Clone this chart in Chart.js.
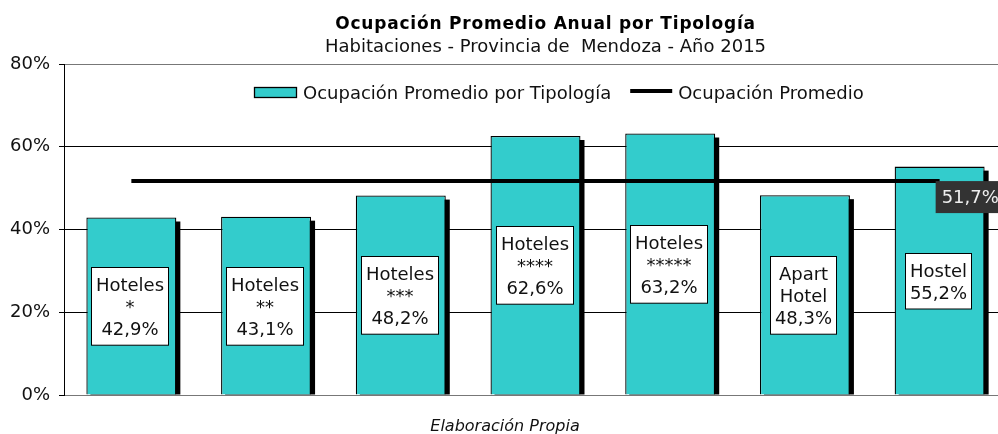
<!DOCTYPE html>
<html>
<head>
<meta charset="utf-8">
<script src="https://cdn.jsdelivr.net/npm/chart.js@4/dist/chart.umd.min.js"></script>
<style>
  html, body { margin: 0; padding: 0; background: #fff; overflow: hidden; }
  #wrap { width: 998px; height: 434px; overflow: hidden; }
</style>
</head>
<body>
<div id="wrap"><canvas id="grafico" width="1010" height="434"></canvas></div>
<script>
// datos
const categorias = [
  ["Hoteles", "*"],
  ["Hoteles", "**"],
  ["Hoteles", "***"],
  ["Hoteles", "****"],
  ["Hoteles", "*****"],
  ["Apart", "Hotel"],
  ["Hostel"]
];
const ocupacionTipologia = [42.9, 43.1, 48.2, 62.6, 63.2, 48.3, 55.2];
const ocupacionPromedio = [51.7, 51.7, 51.7, 51.7, 51.7, 51.7, 51.7];
const ticksY = [0, 20, 40, 60, 80];

const titulo = "Ocupación Promedio Anual por Tipología";
const subtitulo = "Habitaciones - Provincia de  Mendoza - Año 2015";
const pie = "Elaboración Propia";

const TEAL = "#33CCCC";
const FONT = "'DejaVu Sans', Verdana, sans-serif";
Chart.defaults.font.family = FONT;

const fmt = v => v.toFixed(1).replace(".", ",") + "%";

// sombra negra detras de cada barra
const sombras = {
  id: "sombras",
  beforeDatasetsDraw(chart) {
    const ctx = chart.ctx;
    const meta = chart.getDatasetMeta(0);
    ctx.save();
    ctx.fillStyle = "#000";
    meta.data.forEach(b => {
      ctx.fillRect(b.x - b.width / 2 + 4, b.y + 4, b.width, b.base - b.y - 4);
    });
    ctx.restore();
  }
};

// etiquetas, promedio, leyenda y textos
const extras = {
  id: "extras",
  afterDatasetsDraw(chart) {
    const ctx = chart.ctx;
    ctx.save();
    ctx.font = "18px " + FONT;

    // cajas blancas en las barras
    chart.getDatasetMeta(0).data.forEach((b, i) => {
      const lineas = [...categorias[i], fmt(ocupacionTipologia[i])];
      const w = Math.round(Math.max(...lineas.map(t => ctx.measureText(t).width)) + 9);
      const h = 33.3 + (lineas.length - 1) * 22.2;
      const cx = b.x - 1.5;
      const cy = (b.y + b.base) / 2;
      const top = Math.round(cy - h / 2) + 0.5;
      const left = Math.round(cx - w / 2) + 0.5;
      ctx.fillStyle = "#fff";
      ctx.fillRect(left, top, w, h);
      ctx.strokeStyle = "#000";
      ctx.lineWidth = 1;
      ctx.strokeRect(left, top, w, h);
      ctx.fillStyle = "#111";
      ctx.textAlign = "center";
      ctx.textBaseline = "alphabetic";
      lineas.forEach((t, k) => ctx.fillText(t, left + w / 2, top + 23.3 + k * 22.2));
    });

    // etiqueta del promedio
    const pts = chart.getDatasetMeta(1).data;
    const p = pts[pts.length - 1];
    const txt = fmt(ocupacionPromedio[ocupacionPromedio.length - 1]);
    const tw = ctx.measureText(txt).width;
    ctx.fillStyle = "#333";
    ctx.fillRect(p.x - 4, p.y, tw + 14, 32);
    ctx.fillStyle = "#eee";
    ctx.textAlign = "left";
    ctx.fillText(txt, p.x + 2, p.y + 21.7);

    // leyenda
    const ds = chart.data.datasets;
    let x = 254.5;
    ctx.fillStyle = TEAL;
    ctx.fillRect(x, 87.5, 42, 10);
    ctx.strokeStyle = "#000";
    ctx.lineWidth = 1.3;
    ctx.strokeRect(x, 87.5, 42, 10);
    x += 48.5;
    ctx.fillStyle = "#111";
    ctx.fillText(ds[0].label, x, 98.7);
    x += ctx.measureText(ds[0].label).width + 19;
    ctx.beginPath();
    ctx.moveTo(x, 91);
    ctx.lineTo(x + 42, 91);
    ctx.lineWidth = 4;
    ctx.strokeStyle = "#000";
    ctx.stroke();
    x += 48;
    ctx.fillText(ds[1].label, x, 98.7);

    // titulos
    ctx.textAlign = "center";
    ctx.fillStyle = "#000";
    ctx.font = "bold 17px " + FONT;
    ctx.letterSpacing = "0.8px";
    ctx.fillText(titulo, 545.5, 29);
    ctx.letterSpacing = "0px";
    ctx.fillStyle = "#111";
    ctx.font = "18px " + FONT;
    ctx.fillText(subtitulo, 545.5, 51.7);
    ctx.font = "italic 16px " + FONT;
    ctx.fillText(pie, 505, 430.7);
    ctx.restore();
  }
};

new Chart(document.getElementById("grafico"), {
  type: "bar",
  data: {
    labels: categorias,
    datasets: [
      {
        label: "Ocupación Promedio por Tipología",
        data: ocupacionTipologia,
        backgroundColor: TEAL,
        borderColor: "#000",
        borderWidth: 1.3,
        barPercentage: 0.668,
        categoryPercentage: 1,
        order: 2
      },
      {
        type: "line",
        label: "Ocupación Promedio",
        data: ocupacionPromedio,
        borderColor: "#000",
        borderWidth: 4,
        pointRadius: 0,
        fill: false,
        order: 1
      }
    ]
  },
  options: {
    responsive: false,
    animation: false,
    devicePixelRatio: 1,
    layout: { padding: { top: 64, bottom: 39, left: 0, right: 3 } },
    plugins: {
      legend: { display: false },
      title: { display: false },
      tooltip: { enabled: false }
    },
    scales: {
      x: { display: false },
      y: {
        min: ticksY[0],
        max: ticksY[ticksY.length - 1],
        afterBuildTicks: s => { s.ticks = ticksY.map(v => ({ value: v })); },
        afterFit: s => { s.width = 64; },
        ticks: {
          callback: v => v + "%",
          color: "#111",
          font: { size: 18 },
          padding: 9
        },
        grid: {
          color: c => (c.tick && (c.tick.value === 0 || c.tick.value === 80)) ? "#777" : "#000",
          tickColor: "#000",
          tickLength: 5,
          lineWidth: 1
        },
        border: { color: "#000", width: 1 }
      }
    }
  },
  plugins: [sombras, extras]
});
</script>
</body>
</html>
